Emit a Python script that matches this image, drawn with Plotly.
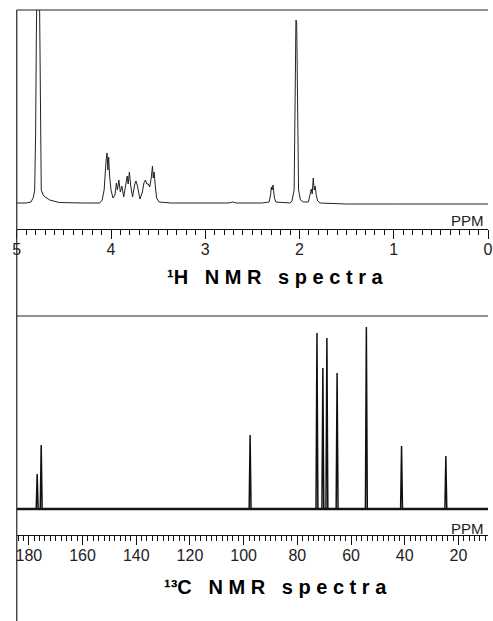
import plotly.graph_objects as go

# ---------------- data ----------------
# 1H spectrum trace: chemical shift (ppm) and intensity (arbitrary units)
H_SHIFT = [5.00, 4.90, 4.85, 4.826, 4.81, 4.80, 4.792, 4.771, 4.755, 4.747, 4.74, 4.72, 4.70, 4.65, 4.55, 4.30,
           4.12, 4.094, 4.073, 4.052, 4.042, 4.033, 4.025, 4.016, 4.000, 3.979, 3.958, 3.943, 3.932, 3.917,
           3.901, 3.885, 3.865, 3.844, 3.828, 3.818, 3.805, 3.792, 3.771, 3.750, 3.736, 3.719, 3.693, 3.667,
           3.651, 3.635, 3.620, 3.604, 3.589, 3.573, 3.560, 3.552, 3.542, 3.531, 3.516, 3.490, 3.36,
           2.75, 2.71, 2.67, 2.40,
           2.323, 2.307, 2.299, 2.292, 2.281, 2.266, 2.250,
           2.10, 2.080, 2.057, 2.047, 2.038, 2.030, 2.021, 2.010, 1.990, 1.958,
           1.906, 1.885, 1.875, 1.865, 1.854, 1.844, 1.833, 1.823, 1.807, 1.781,
           1.50, 1.00, 0.50, 0.00]
H_INTENSITY = [1, 1, 2, 6, 14, 70, 170, 330, 170, 60, 14, 9, 7, 4, 1.5, 1,
               1, 4, 14, 44, 51, 34, 47, 29, 14, 6, 9, 21, 14, 24,
               12, 18, 7, 19, 28, 20, 32, 19, 7, 19, 23, 18, 5, 12,
               21, 24, 20, 20, 17, 26, 38, 26, 32, 19, 6, 2, 1,
               1, 2, 1, 1,
               2, 9, 17, 14, 19, 6, 2,
               1, 3, 14, 100, 184, 182, 100, 14, 4, 2,
               2, 11, 15, 10, 26, 14, 18, 9, 3, 1,
               0, 0, 0, 0]

# 13C spectrum: peak positions (ppm) and heights (arbitrary units)
C_SHIFT = [176.9, 175.4, 97.6, 72.7, 70.5, 69.0, 65.2, 54.3, 41.2, 24.7]
C_HEIGHT = [35, 64, 74, 176, 141, 171, 136, 182, 63, 53]
C_BASELINE_PPM = [184.5, 9.0]

H_RANGE = [5, 0]
C_RANGE = [184.5, 9.0]
H_TITLE = "¹H   N M R   s p e c t r a"
C_TITLE = "¹³C   N M R   s p e c t r a"
AXIS_UNIT = "PPM"

# ---------------- build 13C stick trace from the peak table ----------------
c_x, c_y = [C_BASELINE_PPM[0]], [0]
for p, h in sorted(zip(C_SHIFT, C_HEIGHT), reverse=True):
    c_x += [p + 0.35, p, p - 0.35]
    c_y += [0, h, 0]
c_x.append(C_BASELINE_PPM[1])
c_y.append(0)

W, H = 493, 621
XL = 13 / W

def py(pix):
    return (H - pix) / H

fig = go.Figure()
fig.add_trace(go.Scatter(x=H_SHIFT, y=H_INTENSITY, mode="lines",
                         line=dict(color="#222", width=1), xaxis="x", yaxis="y",
                         showlegend=False, hoverinfo="skip"))
fig.add_trace(go.Scatter(x=C_BASELINE_PPM, y=[0, 0], mode="lines",
                         line=dict(color="#222", width=2.6), xaxis="x2", yaxis="y2",
                         showlegend=False, hoverinfo="skip"))
fig.add_trace(go.Scatter(x=c_x, y=c_y, mode="lines",
                         line=dict(color="#111", width=1.5), xaxis="x2", yaxis="y2",
                         showlegend=False, hoverinfo="skip"))

tickfont = dict(family="Liberation Sans, Arial, sans-serif", size=16, color="#222")
common_x = dict(showline=True, linecolor="#111", linewidth=1.2, ticks="outside",
                ticklen=9, tickwidth=1, tickcolor="#111", showgrid=False, zeroline=False,
                tickfont=tickfont, ticklabeloverflow="allow", ticklabelstandoff=-3,
                fixedrange=True)
title_font = dict(family="Liberation Sans, Arial, sans-serif", size=20, color="#000")
unit_font = dict(family="Liberation Sans, Arial, sans-serif", size=15, color="#222")

fig.update_layout(
    width=W, height=H, margin=dict(l=0, r=0, t=0, b=0),
    paper_bgcolor="white", plot_bgcolor="white",
    xaxis=dict(domain=[XL, 1], range=H_RANGE, anchor="y", tick0=0, dtick=1,
               minor=dict(dtick=0.1, ticklen=5, ticks="outside", tickcolor="#111"),
               **common_x),
    yaxis=dict(domain=[py(229), py(10)], range=[-25, 194], visible=False, fixedrange=True),
    xaxis2=dict(domain=[XL, 1], range=C_RANGE, anchor="y2", tick0=0, dtick=20,
                minor=dict(dtick=2, ticklen=5, ticks="outside", tickcolor="#111"),
                **common_x),
    yaxis2=dict(domain=[py(535), py(316)], range=[-26, 193], visible=False, fixedrange=True),
    shapes=[
        dict(type="line", xref="paper", yref="paper", x0=XL, x1=XL, y0=0, y1=py(10),
             line=dict(color="#222", width=1.2)),
        dict(type="line", xref="paper", yref="paper", x0=XL, x1=1, y0=py(10), y1=py(10),
             line=dict(color="#222", width=1.2)),
        dict(type="line", xref="paper", yref="paper", x0=XL, x1=1, y0=py(316), y1=py(316),
             line=dict(color="#222", width=1.2)),
    ],
    annotations=[
        dict(text=AXIS_UNIT, xref="paper", yref="paper", x=491 / W, y=py(220),
             xanchor="right", yanchor="middle", showarrow=False, font=unit_font),
        dict(text=AXIS_UNIT, xref="paper", yref="paper", x=491 / W, y=py(528),
             xanchor="right", yanchor="middle", showarrow=False, font=unit_font),
        dict(text=f"<b>{H_TITLE}</b>", xref="paper", yref="paper", x=276 / W, y=py(277),
             xanchor="center", yanchor="middle", showarrow=False, font=title_font),
        dict(text=f"<b>{C_TITLE}</b>", xref="paper", yref="paper", x=277 / W, y=py(587),
             xanchor="center", yanchor="middle", showarrow=False, font=title_font),
    ],
)

fig.write_html(
    "out.html",
    config={"displayModeBar": False, "staticPlot": True},
    post_script="document.body.style.margin='0';document.body.style.overflow='hidden';"
                "document.documentElement.style.overflow='hidden';",
)
